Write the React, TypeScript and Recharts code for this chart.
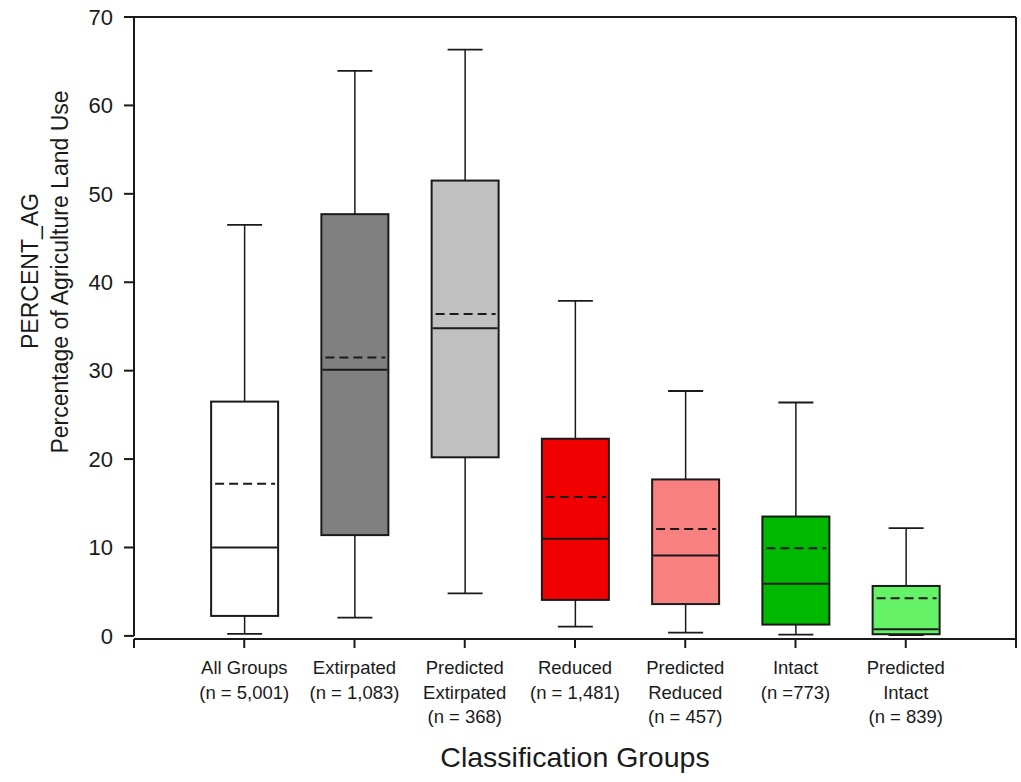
import React from 'react';
import { ComposedChart, Bar, XAxis, YAxis, ReferenceLine } from 'recharts';

const categories = ['All Groups', 'Extirpated', 'Predicted Extirpated', 'Reduced', 'Predicted Reduced', 'Intact', 'Predicted Intact'];
const tickLabels = [
  ['All Groups', '(n = 5,001)'],
  ['Extirpated', '(n = 1,083)'],
  ['Predicted', 'Extirpated', '(n = 368)'],
  ['Reduced', '(n = 1,481)'],
  ['Predicted', 'Reduced', '(n = 457)'],
  ['Intact', '(n =773)'],
  ['Predicted', 'Intact', '(n = 839)'],
];
const whiskerHigh = [46.5, 63.9, 66.3, 37.9, 27.7, 26.4, 12.2];
const q3 = [26.5, 47.7, 51.5, 22.3, 17.7, 13.5, 5.65];
const means = [17.2, 31.5, 36.4, 15.7, 12.1, 9.9, 4.26];
const medians = [10.0, 30.1, 34.8, 11.0, 9.1, 5.9, 0.76];
const q1 = [2.26, 11.4, 20.2, 4.07, 3.6, 1.28, 0.19];
const whiskerLow = [0.23, 2.07, 4.8, 1.05, 0.37, 0.15, 0.1];
const fills = ['#ffffff', '#808080', '#c0c0c0', '#f00000', '#f88080', '#00b800', '#66f266'];
const yTicks = [0, 10, 20, 30, 40, 50, 60, 70];
const xTicks = [0, 1, 2, 3, 4, 5, 6, 7, 8];

const data = categories.map((c, i) => ({
  name: c,
  pos: i + 1,
  whiskerHigh: whiskerHigh[i],
  q3: q3[i],
  mean: means[i],
  median: medians[i],
  q1: q1[i],
  whiskerLow: whiskerLow[i],
  fill: fills[i],
}));

const FONT = 'Liberation Sans, Arial, Helvetica, sans-serif';
const INK = '#1a1a1a';

const BoxShape = (props: any) => {
  const { x, y, width, height, payload } = props;
  const top = Math.min(y, y + height);
  const bottom = Math.max(y, y + height);
  const hi = payload.whiskerHigh;
  const lo = payload.whiskerLow;
  const px = (v: number) => top + ((hi - v) / (hi - lo)) * (bottom - top);
  const cx = x + width / 2;
  const capHalf = 17.5;
  const boxL = x;
  const boxR = x + width;
  return (
    <g>
      <line x1={cx} x2={cx} y1={px(hi)} y2={px(lo)} stroke={INK} strokeWidth={1.5} />
      <line x1={cx - capHalf} x2={cx + capHalf} y1={px(hi)} y2={px(hi)} stroke={INK} strokeWidth={1.8} />
      <line x1={cx - capHalf} x2={cx + capHalf} y1={px(lo)} y2={px(lo)} stroke={INK} strokeWidth={1.8} />
      <rect x={boxL} y={px(payload.q3)} width={boxR - boxL} height={px(payload.q1) - px(payload.q3)} fill={payload.fill} stroke={INK} strokeWidth={2} />
      <line x1={boxL + 1} x2={boxR - 1} y1={px(payload.median)} y2={px(payload.median)} stroke={INK} strokeWidth={2} />
      <line x1={boxL + 4} x2={boxR - 3} y1={px(payload.mean)} y2={px(payload.mean)} stroke={INK} strokeWidth={2} strokeDasharray="9 5" />
    </g>
  );
};

const XTick = (props: any) => {
  const { x, y, payload } = props;
  const idx = payload.value - 1;
  if (idx < 0 || idx >= tickLabels.length) return null;
  const lines = tickLabels[idx];
  return (
    <text x={x} y={y} textAnchor="middle" fontFamily={FONT} fontSize={18.5} fill={INK}>
      {lines.map((l, i) => (
        <tspan key={i} x={x} dy={i === 0 ? 24 : 24.5}>{l}</tspan>
      ))}
    </text>
  );
};

const YTitle = () => (
  <g fontFamily={FONT} fontSize={23} fill={INK}>
    <text x={30} y={271} textAnchor="middle" dominantBaseline="central" transform="rotate(-90 30 271)">PERCENT_AG</text>
    <text x={60} y={272} textAnchor="middle" dominantBaseline="central" transform="rotate(-90 60 272)">Percentage of Agriculture Land Use</text>
  </g>
);

export default function App() {
  return (
    <div style={{ position: 'absolute', left: 0, top: 0, background: '#fff' }}>
      <ComposedChart width={1021} height={782} data={data} margin={{ top: 17, right: 5, bottom: 0, left: 0 }}>
        <XAxis
          dataKey="pos"
          type="number"
          domain={[0, 8]}
          ticks={xTicks}
          interval={0}
          tick={<XTick />}
          tickSize={9}
          tickMargin={2}
          height={143}
          axisLine={{ stroke: INK, strokeWidth: 2 }}
          tickLine={{ stroke: INK, strokeWidth: 2 }}
          allowDataOverflow
          label={{ value: 'Classification Groups', position: 'insideBottom', offset: 15, style: { fontFamily: FONT, fontSize: 28.5, fill: INK } }}
        />
        <YAxis
          type="number"
          domain={[-0.35, 70]}
          ticks={yTicks}
          interval={0}
          allowDataOverflow
          width={134}
          axisLine={false}
          tickSize={10}
          tickMargin={11}
          tickLine={{ stroke: INK, strokeWidth: 2 }}
          tick={{ fontFamily: FONT, fontSize: 22, fill: INK }}
          label={<YTitle />}
        />
        <ReferenceLine segment={[{ x: 0, y: 0 }, { x: 0, y: 70 }]} stroke={INK} strokeWidth={2} ifOverflow="visible" />
        <ReferenceLine segment={[{ x: 0, y: 70 }, { x: 8, y: 70 }]} stroke={INK} strokeWidth={2} ifOverflow="visible" />
        <ReferenceLine segment={[{ x: 8, y: -0.35 }, { x: 8, y: 70 }]} stroke={INK} strokeWidth={2} ifOverflow="visible" />
        <Bar
          dataKey={(d: any) => [d.whiskerLow, d.whiskerHigh]}
          barSize={67}
          shape={<BoxShape />}
          isAnimationActive={false}
        />
      </ComposedChart>
    </div>
  );
}
